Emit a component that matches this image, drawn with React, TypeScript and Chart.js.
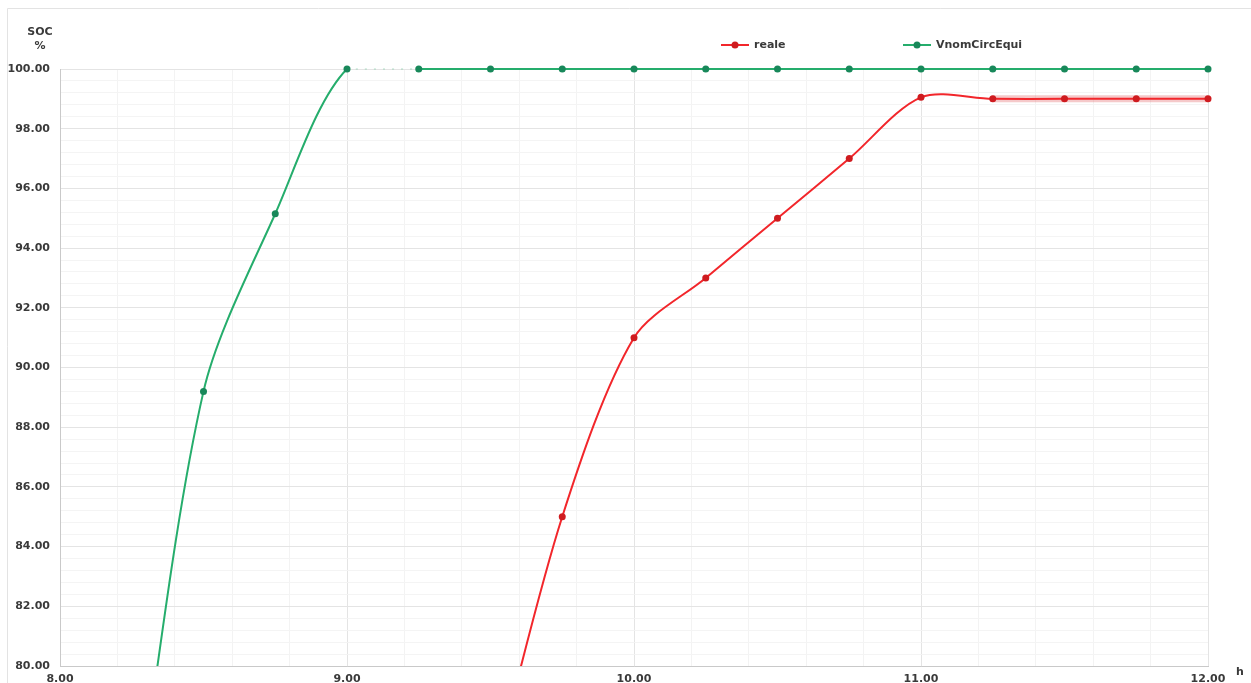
import React, { useEffect, useRef } from "react";
import { Chart, registerables } from "chart.js";

Chart.register(...registerables);

// ---- data ----
const greenHours = [8.25, 8.5, 8.75, 9.0, 9.25, 9.5, 9.75, 10.0, 10.25, 10.5, 10.75, 11.0, 11.25, 11.5, 11.75, 12.0];
const greenValues = [74.0, 89.2, 95.15, 100, 100, 100, 100, 100, 100, 100, 100, 100, 100, 100, 100, 100];
const greenGapAfter = 9.0; // no data between 9.00 and 9.25

const redHours = [9.5, 9.75, 10.0, 10.25, 10.5, 10.75, 11.0, 11.25, 11.5, 11.75, 12.0];
const redValues = [76.0, 85.0, 91.0, 93.0, 95.0, 97.0, 99.05, 99.0, 99.0, 99.0, 99.0];

const bandHours = [11.25, 11.5, 11.75, 12.0];
const bandValues = [99.0, 99.0, 99.0, 99.0];

const seriesNames = ["reale", "VnomCircEqui"];
const xTickLabels = ["8.00", "9.00", "10.00", "11.00", "12.00"];
const yTitle = ["SOC", "%"];
const xTitle = "h";

const FONT = "'DejaVu Sans', sans-serif";
const TEXT = "#3a3a3a";
const RED = "#f2262b";
const RED_PT = "#cf1b1f";
const GREEN = "#25ad6c";
const GREEN_PT = "#18885a";

const isMult = (v: number, s: number) => Math.abs(v / s - Math.round(v / s)) < 1e-6;

const decorPlugin = {
  id: "decor",
  beforeDraw(chart: any) {
    const ctx = chart.ctx;
    ctx.save();
    ctx.strokeStyle = "#e3e3e3";
    ctx.lineWidth = 1;
    ctx.beginPath();
    ctx.moveTo(7.5, 700);
    ctx.lineTo(7.5, 8.5);
    ctx.lineTo(1300, 8.5);
    ctx.stroke();
    ctx.restore();
  },
  afterDraw(chart: any) {
    const ctx = chart.ctx;
    ctx.save();
    ctx.fillStyle = TEXT;
    ctx.font = `bold 11px ${FONT}`;
    ctx.textAlign = "center";
    ctx.textBaseline = "middle";
    ctx.fillText(yTitle[0], 40, 32);
    ctx.fillText(yTitle[1], 40, 46);
    ctx.fillText(xTitle, 1240, 672);

    // legend
    const items = [
      { label: seriesNames[0], line: RED, pt: RED_PT, x: 721 },
      { label: seriesNames[1], line: GREEN, pt: GREEN_PT, x: 903 },
    ];
    const y = 45;
    items.forEach((it) => {
      ctx.strokeStyle = it.line;
      ctx.lineWidth = 2;
      ctx.beginPath();
      ctx.moveTo(it.x, y);
      ctx.lineTo(it.x + 28, y);
      ctx.stroke();
      ctx.fillStyle = it.pt;
      ctx.beginPath();
      ctx.arc(it.x + 14, y, 3.5, 0, Math.PI * 2);
      ctx.fill();
      ctx.fillStyle = TEXT;
      ctx.font = `bold 11px ${FONT}`;
      ctx.textAlign = "left";
      ctx.fillText(it.label, it.x + 33, y);
    });
    ctx.restore();
  },
};

export default function App() {
  const ref = useRef<HTMLCanvasElement>(null);

  useEffect(() => {
    document.body.style.margin = "0";
    document.body.style.overflow = "hidden";
    const canvas = ref.current!;
    const clip = { left: 0, top: 10, right: 10, bottom: 0 };
    const chart = new Chart(canvas, {
      type: "line",
      data: {
        datasets: [
          {
            label: seriesNames[0],
            data: redHours.map((h, i) => ({ x: h, y: redValues[i] })),
            borderColor: RED,
            backgroundColor: RED_PT,
            pointBackgroundColor: RED_PT,
            pointBorderWidth: 0,
            pointRadius: 3.5,
            borderWidth: 2,
            tension: 0.3,
            clip,
            order: 1,
          } as any,
          {
            label: seriesNames[1],
            data: greenHours.map((h, i) => ({ x: h, y: greenValues[i] })),
            borderColor: GREEN,
            backgroundColor: GREEN_PT,
            pointBackgroundColor: GREEN_PT,
            pointBorderWidth: 0,
            pointRadius: 3.5,
            borderWidth: 2,
            tension: 0.3,
            clip,
            order: 2,
            segment: {
              borderColor: (c: any) =>
                Math.abs(c.p0.parsed.x - greenGapAfter) < 1e-6 ? "rgba(37,173,108,0.18)" : undefined,
              borderDash: (c: any) =>
                Math.abs(c.p0.parsed.x - greenGapAfter) < 1e-6 ? [2, 7] : undefined,
            },
          } as any,
          {
            label: "band",
            data: bandHours.map((h, i) => ({ x: h, y: bandValues[i] })),
            borderColor: "rgba(225,90,95,0.33)",
            borderWidth: 7,
            pointRadius: 0,
            tension: 0,
            clip,
            order: 3,
          } as any,
        ],
      },
      options: {
        animation: false,
        responsive: false,
        maintainAspectRatio: false,
        layout: { padding: { left: 0, right: 43, top: 69, bottom: 0 } },
        plugins: {
          legend: { display: false },
          tooltip: { enabled: false },
        },
        scales: {
          x: {
            type: "linear",
            min: 8,
            max: 12,
            afterFit: (s: any) => {
              s.height = 17;
            },
            border: { color: "#c9c9c9", width: 1 },
            grid: {
              drawTicks: false,
              color: (c: any) => (isMult(c.tick.value, 1) ? "#e4e4e4" : "#f3f3f3"),
            },
            ticks: {
              stepSize: 0.2,
              autoSkip: false,
              maxRotation: 0,
              padding: 7,
              color: TEXT,
              font: { family: FONT, size: 11, weight: "bold" },
              callback: (v: any) => {
                const n = Number(v);
                if (!isMult(n, 1)) return "";
                return xTickLabels[Math.round(n) - 8] ?? n.toFixed(2);
              },
            },
          },
          y: {
            min: 80,
            max: 100,
            afterFit: (s: any) => {
              s.width = 60;
            },
            border: { color: "#c9c9c9", width: 1 },
            grid: {
              drawTicks: false,
              color: (c: any) => (isMult(c.tick.value, 2) ? "#e4e4e4" : "#f4f4f4"),
            },
            ticks: {
              stepSize: 0.4,
              autoSkip: false,
              padding: 10,
              color: TEXT,
              font: { family: FONT, size: 11, weight: "bold" },
              callback: (v: any) => {
                const n = Number(v);
                return isMult(n, 2) ? n.toFixed(2) : "";
              },
            },
          },
        },
      },
      plugins: [decorPlugin],
    });
    return () => chart.destroy();
  }, []);

  return (
    <div style={{ width: 1251, height: 683, position: "relative", background: "#fff" }}>
      <canvas ref={ref} width={1251} height={683} style={{ display: "block" }} />
    </div>
  );
}
